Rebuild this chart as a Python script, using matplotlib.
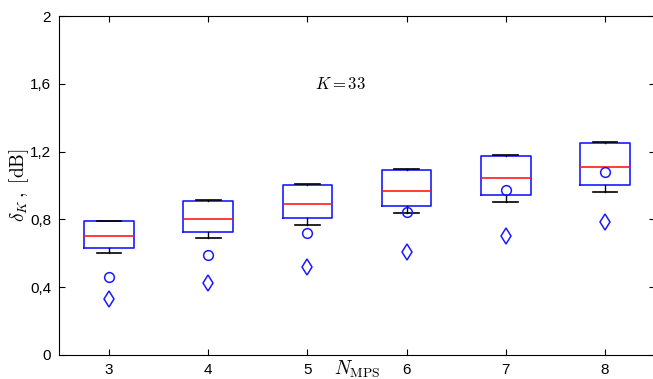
import matplotlib
matplotlib.use('Agg')
import matplotlib.pyplot as plt

plt.rcParams['font.family'] = 'Liberation Sans'
plt.rcParams['mathtext.fontset'] = 'cm'

# number of MPS on the x axis
nmps = [3, 4, 5, 6, 7, 8]
# box statistics
q1 = [0.630, 0.724, 0.806, 0.879, 0.942, 1.001]
q3 = [0.791, 0.909, 1.005, 1.093, 1.174, 1.251]
med = [0.700, 0.801, 0.889, 0.969, 1.042, 1.109]
whisLo = [0.602, 0.692, 0.767, 0.840, 0.901, 0.960]
whisHi = [0.793, 0.913, 1.011, 1.100, 1.179, 1.256]
# extra markers
circles = [0.462, 0.590, 0.718, 0.842, 0.971, 1.081]
diamonds = [0.332, 0.423, 0.521, 0.609, 0.704, 0.783]

yticks = [0, 0.4, 0.8, 1.2, 1.6, 2]
yticklabels = ['0', '0,4', '0,8', '1,2', '1,6', '2']

fig = plt.figure(figsize=(6.53, 3.79), dpi=100)
W, H = 653.0, 379.0
ax = fig.add_axes([59.4 / W, 1 - 355 / H, 595.2 / W, 339 / H])

stats = []
for i in range(len(nmps)):
    stats.append({'med': med[i], 'q1': q1[i], 'q3': q3[i],
                  'whislo': whisLo[i], 'whishi': whisHi[i], 'fliers': []})

ax.bxp(stats, positions=nmps, widths=0.5, capwidths=0.25, showfliers=False,
       boxprops=dict(color='#1a1aff', linewidth=1.2),
       medianprops=dict(color='#ff1a1a', linewidth=1.2),
       whiskerprops=dict(color='black', linewidth=1),
       capprops=dict(color='black', linewidth=1.2))

ax.plot(nmps, circles, linestyle='None', marker='o', markersize=7,
        markerfacecolor='none', markeredgecolor='#1a1aff', markeredgewidth=1.1, zorder=5)
ax.plot(nmps, diamonds, linestyle='None', marker='d', markersize=8,
        markerfacecolor='none', markeredgecolor='#1a1aff', markeredgewidth=1.1, zorder=5)

ax.set_xlim(2.5, 8.5)
ax.set_ylim(0, 2)
ax.set_xticks(nmps)
ax.set_xticklabels([str(n) for n in nmps])
ax.set_yticks(yticks)
ax.set_yticklabels(yticklabels)
ax.tick_params(direction='in', length=4, top=True, right=True, labelsize=11, pad=6)

ax.text(5.33, 1.6, '$K = 33$', ha='center', va='center', fontsize=12)
ax.set_xlabel(r'$N_{\mathrm{MPS}}$', fontsize=14, va='center')
ax.xaxis.set_label_coords(0.5, -0.042)
ax.set_ylabel(r'$\delta_K\,,\ [\mathrm{dB}]$', fontsize=14, va='center')
ax.yaxis.set_label_coords(-0.067, 0.5)

fig.savefig('out.png', dpi=100)
